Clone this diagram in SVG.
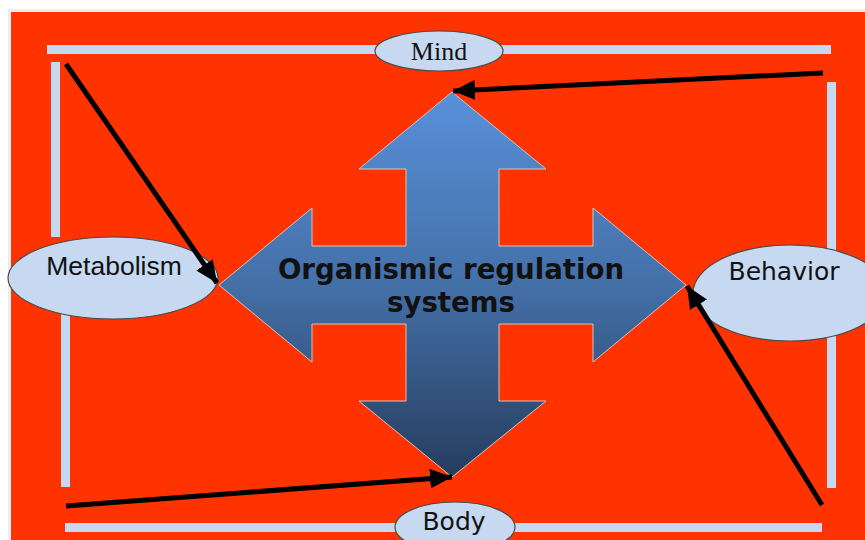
<svg xmlns="http://www.w3.org/2000/svg" width="865" height="540" viewBox="0 0 865 540">
<style>
.bar{fill:#C6D9F1;}
.node{fill:#C6D9F1;stroke:#4a4a4a;stroke-width:1.2;}
.lbl{fill:#111;text-anchor:middle;}
.conn{stroke:#000;stroke-width:5;fill:none;marker-end:url(#ah);}
</style>
<defs>
<linearGradient id="g" x1="0" y1="0" x2="0" y2="1">
<stop offset="0" stop-color="#5890DA"/>
<stop offset="0.5" stop-color="#4470A8"/>
<stop offset="1" stop-color="#263C5E"/>
</linearGradient>
<marker id="ah" markerUnits="userSpaceOnUse" markerWidth="24" markerHeight="20" viewBox="0 0 24 20" refX="22" refY="10" orient="auto">
<path d="M0,0 L22,10 L0,20 Z" fill="#000"/>
</marker>
</defs>
<rect x="0" y="0" width="865" height="540" fill="#ffffff"/>
<rect x="8" y="9" width="857" height="531" fill="#EDEDED"/>
<rect x="11" y="12" width="854" height="528" fill="#FF3300"/>
<g id="frame">
<rect class="bar" x="47" y="45" width="784" height="9"/>
<rect class="bar" x="51" y="62" width="9" height="175"/>
<rect class="bar" x="61" y="313" width="9" height="174"/>
<rect class="bar" x="827" y="82" width="9" height="406"/>
<rect class="bar" x="65" y="523" width="757" height="9"/>
</g>
<g id="center">
<path d="M452,92 L546,169 L499,169 L499,246 L593,246 L593,208 L686,285 L593,362 L593,324 L499,324 L499,401 L546,401 L452,477 L359,401 L406,401 L406,324 L312,324 L312,362 L219,285 L312,208 L312,246 L406,246 L406,169 L359,169 Z" fill="url(#g)" stroke="#D8C4BC" stroke-width="1"/>
<text class="lbl" x="451" y="279" font-family="DejaVu Sans, Verdana, sans-serif" font-weight="bold" font-size="27.6">Organismic regulation</text>
<text class="lbl" x="451" y="312" font-family="DejaVu Sans, Verdana, sans-serif" font-weight="bold" font-size="27.6">systems</text>
</g>
<g id="mind">
<ellipse class="node" cx="439" cy="51" rx="64" ry="20"/>
<text class="lbl" x="439" y="60" font-family="Liberation Serif, serif" font-size="26">Mind</text>
</g>
<g id="metabolism">
<ellipse class="node" cx="113" cy="278" rx="105" ry="41"/>
<text class="lbl" x="114" y="275" font-family="Liberation Sans, Arial, sans-serif" font-size="26.5">Metabolism</text>
</g>
<g id="behavior">
<ellipse class="node" cx="790" cy="293" rx="97" ry="48"/>
<text class="lbl" x="784" y="280" font-family="DejaVu Sans, Verdana, sans-serif" font-size="25">Behavior</text>
</g>
<g id="body">
<ellipse class="node" cx="455" cy="527" rx="60" ry="25"/>
<text class="lbl" x="454" y="530" font-family="DejaVu Sans, Verdana, sans-serif" font-size="25">Body</text>
</g>
<g id="connectors">
<line class="conn" x1="66" y1="64" x2="217" y2="283"/>
<line class="conn" x1="823" y1="73" x2="453" y2="91"/>
<line class="conn" x1="66" y1="506" x2="452" y2="477"/>
<line class="conn" x1="822" y1="505" x2="687" y2="286"/>
</g>
</svg>
